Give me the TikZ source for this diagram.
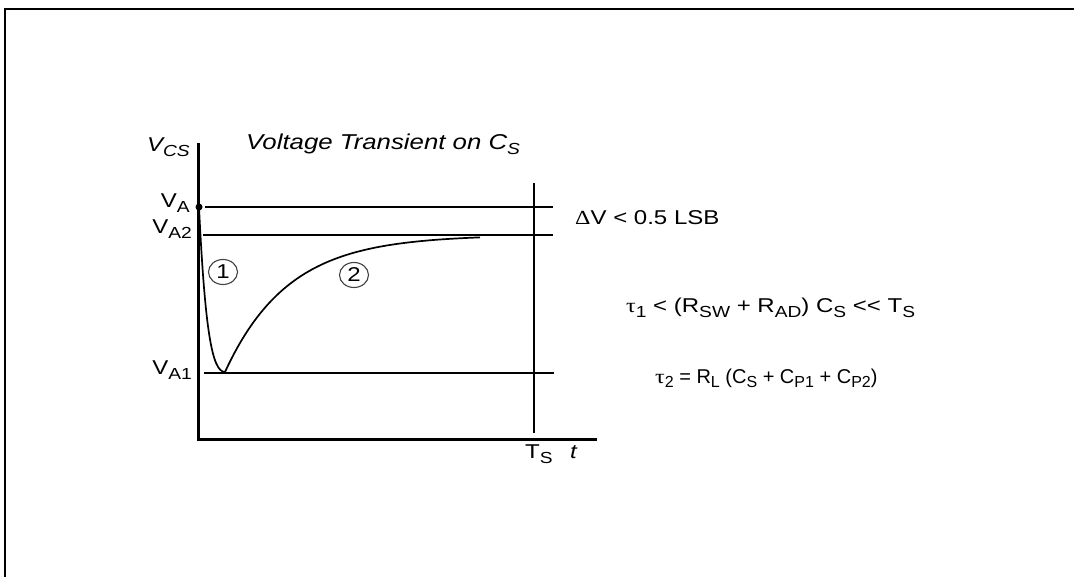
\documentclass[tikz,border=0pt]{standalone}
\usepackage{fontspec}
\setmainfont{Liberation Sans}[FakeStretch=1.2]
\newfontfamily\narrowsans{Liberation Sans}
\newfontfamily\greekserif{Liberation Serif}[FakeStretch=1.2]
\newcommand{\lowsub}[1]{\raisebox{-5pt}{\fontsize{16}{16}\selectfont #1}}
\usetikzlibrary{shapes.geometric}

\tikzset{
  axis/.style={line width=3pt},
  level/.style={line width=1.7pt},
  lbl/.style={inner sep=0pt, font=\fontsize{20}{24}\selectfont},
  num/.style={ellipse, draw=black!75, line width=1.1pt, minimum width=29pt,
    minimum height=25pt, inner sep=0pt, font=\fontsize{20}{24}\selectfont},
}

\begin{document}
\begin{tikzpicture}[x=1pt, y=-1pt]
    \useasboundingbox (0,0) rectangle (1074,577);
    % frame
    \draw[line width=2.2pt] (5,577) -- (5,9) -- (1074,9);
    % axes and levels
    \draw[axis] (198,143) -- (198,439) -- (597,439);
    \draw[line width=2pt] (534,183) -- (534,433);
    \draw[level] (205,207) -- (553,207);
    \draw[level] (203,235) -- (553,235);
    \draw[level] (204,373) -- (554,373);
    \node[circle, fill, inner sep=0pt, minimum size=7pt] (p0) at (199,207) {};
    % transient
    \draw[level] (p0.center) .. controls (205,330) and (212,372) .. (225,372)
        -- plot[domain=225:480, samples=80] (\x, {235+137*exp(-(\x-225)/63)});
    \node[num] (n1) at (223,272) {1};
    \node[num] (n2) at (354,275) {2};
    % labels
    \node[lbl, anchor=base east] (vcs) at (190,152) {\textit{V\lowsub{CS}}};
    \node[lbl, anchor=base west, font=\fontsize{21.5}{24}\selectfont] (ttl) at (246,150)
        {\textit{Voltage Transient on C\lowsub{S}}};
    \node[lbl, anchor=base east] (va) at (190,208) {V\lowsub{A}};
    \node[lbl, anchor=base east] (va2) at (192,234) {V\lowsub{A2}};
    \node[lbl, anchor=base east] (va1) at (192,374) {V\lowsub{A1}};
    \node[lbl, anchor=base west] (ts) at (525,458) {T\lowsub{S}};
    \node[lbl, anchor=base west] (t) at (570,458) {\textit{t}};
    \node[lbl, anchor=base west] (dv) at (575,225) {{\greekserif Δ}V < 0.5 LSB};
    \node[lbl, anchor=base west] (tau1) at (626,313)
        {{\greekserif τ}\lowsub{1} < (R\lowsub{SW} + R\lowsub{AD}) C\lowsub{S} <{}< T\lowsub{S}};
    \node[lbl, anchor=base west] (tau2) at (655,383)
        {\narrowsans{\greekserif τ}\lowsub{2} = R\lowsub{L} (C\lowsub{S} + C\lowsub{P1} + C\lowsub{P2})};
\end{tikzpicture}
\end{document}
